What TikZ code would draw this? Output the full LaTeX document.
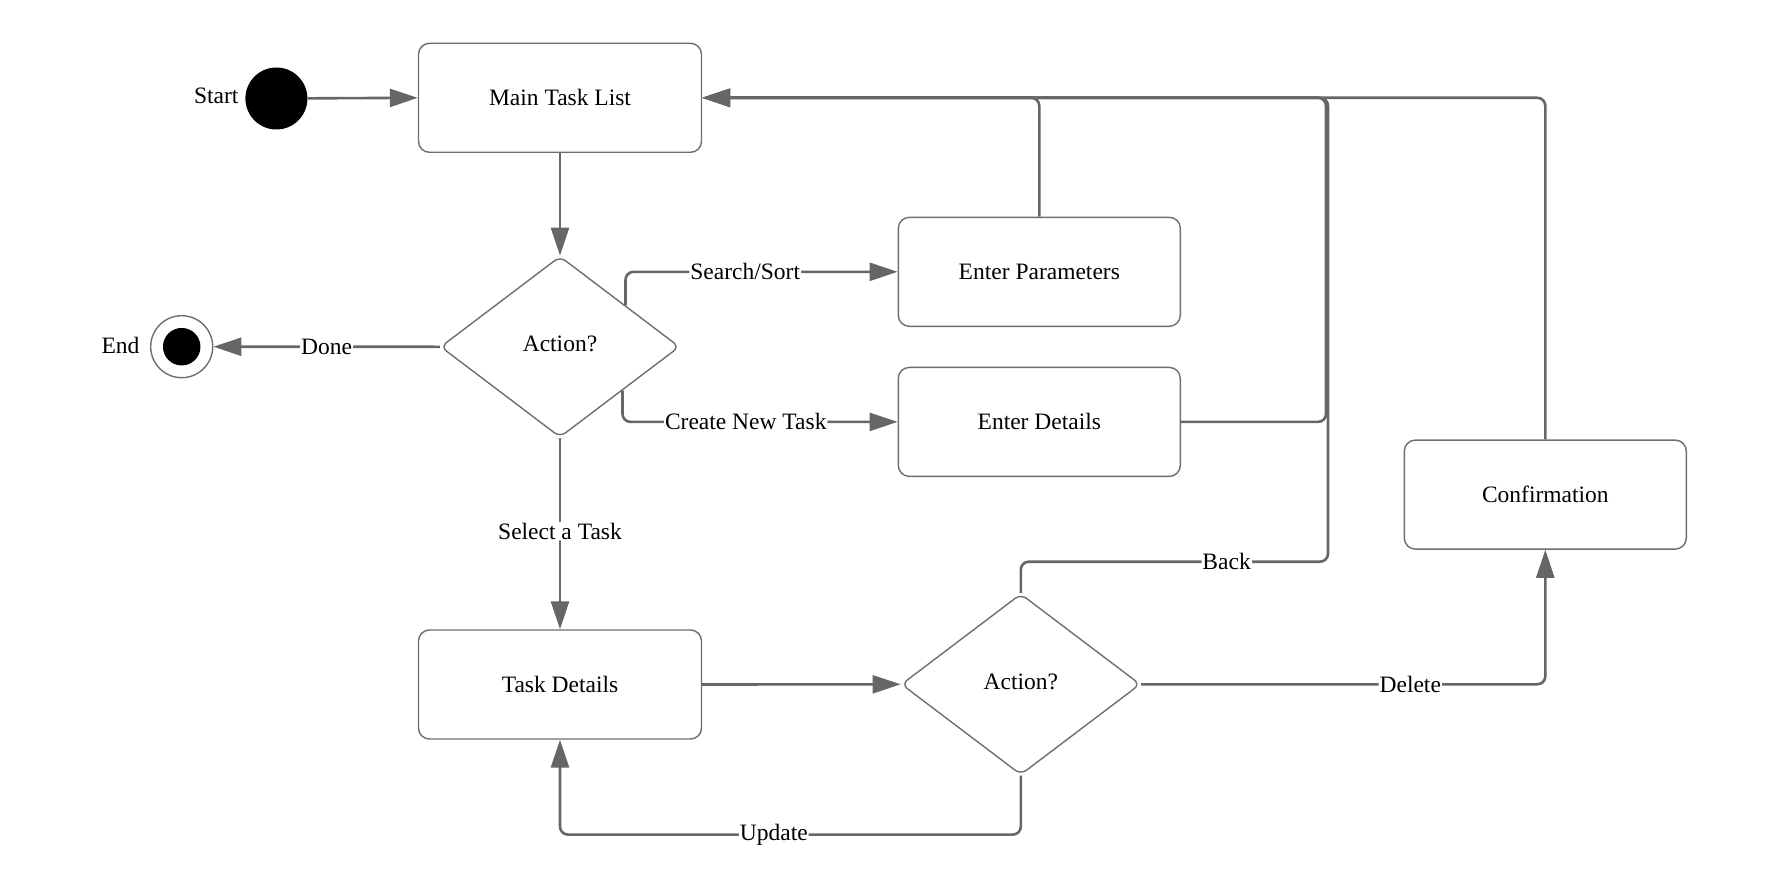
\documentclass[tikz,border=0pt]{standalone}
\usepackage{fontspec}
\setmainfont{Liberation Serif}
\usetikzlibrary{shapes.geometric,arrows.meta,calc}
\definecolor{ln}{HTML}{666666}
\definecolor{bd}{HTML}{6E6E6E}
\tikzset{
  box/.style={draw=bd, line width=1.4pt, rounded corners=11pt, fill=white, minimum width=283pt, minimum height=109pt, inner sep=0pt},
  dec/.style={draw=bd, line width=1.4pt, diamond, rounded corners=7pt, fill=white, minimum width=239pt, minimum height=181pt, inner sep=0pt},
  conn/.style={draw=ln, line width=2.6pt, rounded corners=8pt, -{Triangle[length=28pt,width=18pt]}},
  lbl/.style={fill=white, inner sep=1pt, text=black},
  txt/.style={text=black}
}
\begin{document}
\begin{tikzpicture}[x=1pt,y=-1pt,font=\fontsize{23.5}{28}\selectfont]
\useasboundingbox (0,0) rectangle (1783,888);
% nodes
\node[circle, fill=black, minimum size=62pt, inner sep=0pt] (start) at (276.4,98.5) {};
\node[txt, anchor=east] (startlbl) at (242,96) {Start};
\node[box] (main) at (560,97.8) {Main Task List};
\node[dec] (act1) at (560,346.8) {\raisebox{6pt}{Action?}};
\node[box, minimum width=282pt] (params) at (1039.3,271.8) {Enter Parameters};
\node[box, minimum width=282pt] (details) at (1039.3,421.9) {Enter Details};
\node[box, minimum width=282pt] (confirm) at (1545.3,494.6) {Confirmation};
\node[box] (task) at (560,684.5) {Task Details};
\node[dec] (act2) at (1020.8,684.3) {\raisebox{6pt}{Action?}};
\node[circle, draw=bd, line width=1.4pt, fill=white, minimum size=62pt, inner sep=0pt] (end) at (181.7,346.7) {};
\node[circle, fill=black, minimum size=37.5pt, inner sep=0pt] (endin) at (end.center) {};
\node[txt, anchor=east] (endlbl) at (143,345) {End};
% helper coordinates
\coordinate (ssa) at ($(act1.north)!0.545!(act1.east)$);
\coordinate (cna) at ($(act1.south)!0.52!(act1.east)$);
\coordinate (updy) at (560,834.6);
\coordinate (backc) at (1328,561.7);
\coordinate (jx) at (1326,97.8);
% connectors
\draw[conn] (start) -- (main.west);
\draw[conn] (main.south) -- (act1.north);
\draw[conn] (ssa) |- node[lbl, pos=0.72] (lss) {Search/Sort} (params.west);
\draw[conn] (cna) |- node[lbl, pos=0.724] (lcn) {Create New Task} (details.west);
\draw[conn] (act1.west) -- node[lbl, pos=0.5] (ldone) {Done} (end);
\draw[conn] (act1.south) -- node[lbl, pos=0.487] (lsel) {Select a Task} (task.north);
\draw[conn] (task.east) -- (act2.west);
\draw[conn] (act2.south) |- node[lbl, pos=0.768] (lupd) {Update} (updy) -- (task.south);
\draw[conn] (act2.north) |- node[lbl, pos=0.835] (lback) {Back} (backc) |- (main.east);
\draw[conn] (params.north) |- (main.east);
\draw[conn] (details.east) -| (jx) -- (main.east);
\draw[conn] (confirm.north) |- (main.east);
\draw[conn] (act2.east) -| node[lbl, pos=0.333] (ldel) {Delete} (confirm.south);
\end{tikzpicture}
\end{document}
